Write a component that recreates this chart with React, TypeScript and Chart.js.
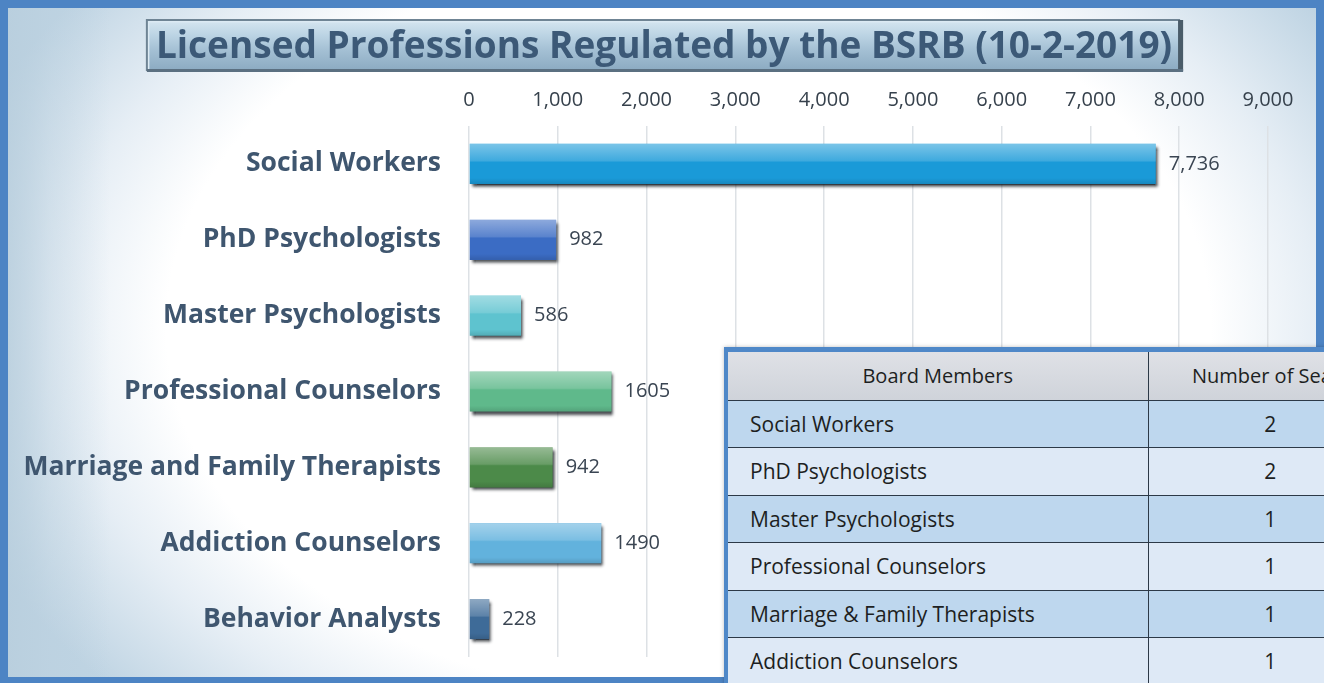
import React, { useEffect, useRef } from "react";
import { Chart, registerables } from "chart.js";

Chart.register(...registerables);

const TITLE = "Licensed Professions Regulated by the BSRB (10-2-2019)";
const categories = [
  "Social Workers",
  "PhD Psychologists",
  "Master Psychologists",
  "Professional Counselors",
  "Marriage and Family Therapists",
  "Addiction Counselors",
  "Behavior Analysts",
];
const licensees = [7736, 982, 586, 1605, 942, 1490, 228];
const valueLabels = ["7,736", "982", "586", "1605", "942", "1490", "228"];
const barColors = ["#1a9ad8", "#3b6cc4", "#5ec3cf", "#5fb98b", "#4c8a49", "#62b2dd", "#3e6b98"];
const axisMin = 0;
const axisMax = 9000;
const axisStep = 1000;

const tableHeaders = ["Board Members", "Number of Seats"];
const boardMembers = [
  "Social Workers",
  "PhD Psychologists",
  "Master Psychologists",
  "Professional Counselors",
  "Marriage & Family Therapists",
  "Addiction Counselors",
];
const seats = [2, 2, 1, 1, 1, 1];

const FONT = "'Open Sans', 'Noto Sans', 'DejaVu Sans', sans-serif";
const TITLE_SIZE = 37;

const titleBoxPlugin = {
  id: "titleBox",
  beforeDraw(chart: any) {
    const ctx = chart.ctx;
    const tb = chart.titleBlock;
    ctx.save();
    ctx.font = `bold ${TITLE_SIZE}px ${FONT}`;
    const w = ctx.measureText(TITLE).width;
    const cx = tb ? (tb.left + tb.right) / 2 : chart.width / 2;
    const x = cx - w / 2 - 9;
    const y = 20;
    const bw = w + 16;
    const bh = 50;
    const g = ctx.createLinearGradient(0, y, 0, y + bh);
    g.addColorStop(0, "#d6e6f0");
    g.addColorStop(0.3, "#bcd4e4");
    g.addColorStop(0.6, "#a4c0d4");
    g.addColorStop(1, "#8cabc2");
    ctx.fillStyle = g;
    ctx.fillRect(x, y, bw, bh);
    ctx.lineWidth = 3;
    ctx.strokeStyle = "#dceaf3";
    ctx.beginPath();
    ctx.moveTo(x + 1, y + bh);
    ctx.lineTo(x + 1, y + 1);
    ctx.lineTo(x + bw, y + 1);
    ctx.stroke();
    ctx.strokeStyle = "#6f8494";
    ctx.lineWidth = 2;
    ctx.strokeRect(x, y, bw, bh);
    ctx.fillStyle = "#4a5c69";
    ctx.fillRect(x + bw - 1, y, 5, bh + 1);
    ctx.fillStyle = "#5b7081";
    ctx.fillRect(x, y + bh - 1, bw + 4, 3);
    ctx.restore();
  },
};

const barFxPlugin = {
  id: "barFx",
  beforeDatasetsDraw(chart: any) {
    const ctx = chart.ctx;
    ctx.save();
    ctx.shadowColor = "rgba(20,25,30,0.85)";
    ctx.shadowBlur = 3;
    ctx.shadowOffsetX = 2;
    ctx.shadowOffsetY = 3;
  },
  afterDatasetsDraw(chart: any) {
    const ctx = chart.ctx;
    ctx.restore();
    const meta = chart.getDatasetMeta(0);
    ctx.save();
    meta.data.forEach((el: any, i: number) => {
      const left = Math.min(el.base, el.x);
      const right = Math.max(el.base, el.x);
      const top = el.y - el.height / 2;
      const h = el.height;
      const g = ctx.createLinearGradient(0, top, 0, top + h);
      g.addColorStop(0, "rgba(255,255,255,0.42)");
      g.addColorStop(0.42, "rgba(255,255,255,0.16)");
      g.addColorStop(0.46, "rgba(255,255,255,0)");
      g.addColorStop(0.85, "rgba(0,0,0,0)");
      g.addColorStop(1, "rgba(0,0,0,0.12)");
      ctx.fillStyle = g;
      ctx.fillRect(left, top, right - left, h);
      ctx.font = `20px ${FONT}`;
      ctx.fillStyle = "#3a4552";
      ctx.textAlign = "left";
      ctx.textBaseline = "middle";
      ctx.fillText(valueLabels[i], right + 13, el.y);
    });
    ctx.restore();
  },
};

export default function App() {
  const ref = useRef<HTMLCanvasElement | null>(null);

  useEffect(() => {
    if (!ref.current) return;
    const chart = new Chart(ref.current, {
      type: "bar",
      data: {
        labels: categories,
        datasets: [
          {
            data: licensees,
            backgroundColor: barColors,
            borderWidth: 0,
            barPercentage: 0.53,
            categoryPercentage: 1,
          },
        ],
      },
      options: {
        indexAxis: "y",
        responsive: false,
        animation: false,
        devicePixelRatio: 1,
        layout: { padding: { left: 4, right: 0, top: 0, bottom: 26 } },
        plugins: {
          legend: { display: false },
          tooltip: { enabled: false },
          title: {
            display: true,
            text: TITLE,
            color: "#3c5977",
            font: { family: FONT, size: TITLE_SIZE, weight: "bold" },
            padding: { top: 25, bottom: 4 },
          },
        },
        scales: {
          x: {
            position: "top",
            min: axisMin,
            max: axisMax,
            ticks: {
              stepSize: axisStep,
              color: "#36414c",
              font: { family: FONT, size: 20 },
              padding: 14,
              callback: (v: any) => Number(v).toLocaleString("en-US"),
            },
            grid: { color: "#dde1e5", lineWidth: 1.5, drawTicks: false },
            border: { display: false },
            afterFit: (s: any) => {
              s.height = 52.6;
              s.paddingLeft = 0;
              s.paddingRight = 56;
            },
          },
          y: {
            ticks: {
              color: "#3f566f",
              font: { family: FONT, size: 26.5, weight: "bold" },
              padding: 28,
            },
            grid: { display: false, drawTicks: false },
            border: { display: false },
            afterFit: (s: any) => {
              s.width = 465;
              s.paddingTop = 0;
              s.paddingBottom = 0;
            },
          },
        },
      },
      plugins: [titleBoxPlugin, barFxPlugin],
    });
    return () => chart.destroy();
  }, []);

  const cellBorder = "1.5px solid #2c3947";

  return (
    <div
      style={{
        position: "fixed",
        left: 0,
        top: 0,
        width: 1324,
        height: 683,
        overflow: "hidden",
        background:
          "linear-gradient(to right, rgba(184,206,221,0.9) 0px, rgba(184,206,221,0.35) 50px, rgba(184,206,221,0) 110px), radial-gradient(ellipse 58% 80% at 52% 48%, #ffffff 68%, #e6eef5 82%, #bfd4e3 100%)",
        fontFamily: FONT,
      }}
    >
      <canvas ref={ref} width={1324} height={683} style={{ position: "absolute", left: 0, top: 0 }} />
      <div
        style={{
          position: "absolute",
          left: 0,
          top: 0,
          width: 1324,
          height: 683,
          boxSizing: "border-box",
          borderStyle: "solid",
          borderColor: "#4d84c4",
          borderWidth: "8px 8px 6px 8px",
          pointerEvents: "none",
        }}
      />
      <div
        style={{
          position: "absolute",
          left: 724,
          top: 347,
          borderLeft: "4px solid #4f88c8",
          borderTop: "5px solid #4f88c8",
          boxShadow: "0 0 4px rgba(0,0,0,0.25)",
        }}
      >
        <table
          style={{
            borderCollapse: "collapse",
            width: 664,
            tableLayout: "fixed",
            fontSize: 21,
            color: "#1d1f22",
            fontFamily: FONT,
          }}
        >
          <colgroup>
            <col style={{ width: 420 }} />
            <col style={{ width: 244 }} />
          </colgroup>
          <thead>
            <tr style={{ height: 48, background: "linear-gradient(#dfe1e6, #cfd3da)" }}>
              {tableHeaders.map((h, i) => (
                <th
                  key={h}
                  style={{
                    fontWeight: "normal",
                    fontSize: 20,
                    textAlign: "center",
                    borderLeft: i === 0 ? "none" : cellBorder,
                    borderBottom: cellBorder,
                    padding: 0,
                    whiteSpace: "nowrap",
                  }}
                >
                  {h}
                </th>
              ))}
            </tr>
          </thead>
          <tbody>
            {boardMembers.map((m, i) => (
              <tr key={m} style={{ height: 47.5, background: i % 2 === 0 ? "#bed7ee" : "#dee9f6" }}>
                <td style={{ paddingLeft: 22, borderBottom: cellBorder, whiteSpace: "nowrap" }}>{m}</td>
                <td style={{ textAlign: "center", borderLeft: cellBorder, borderBottom: cellBorder }}>
                  {seats[i]}
                </td>
              </tr>
            ))}
          </tbody>
        </table>
      </div>
    </div>
  );
}
